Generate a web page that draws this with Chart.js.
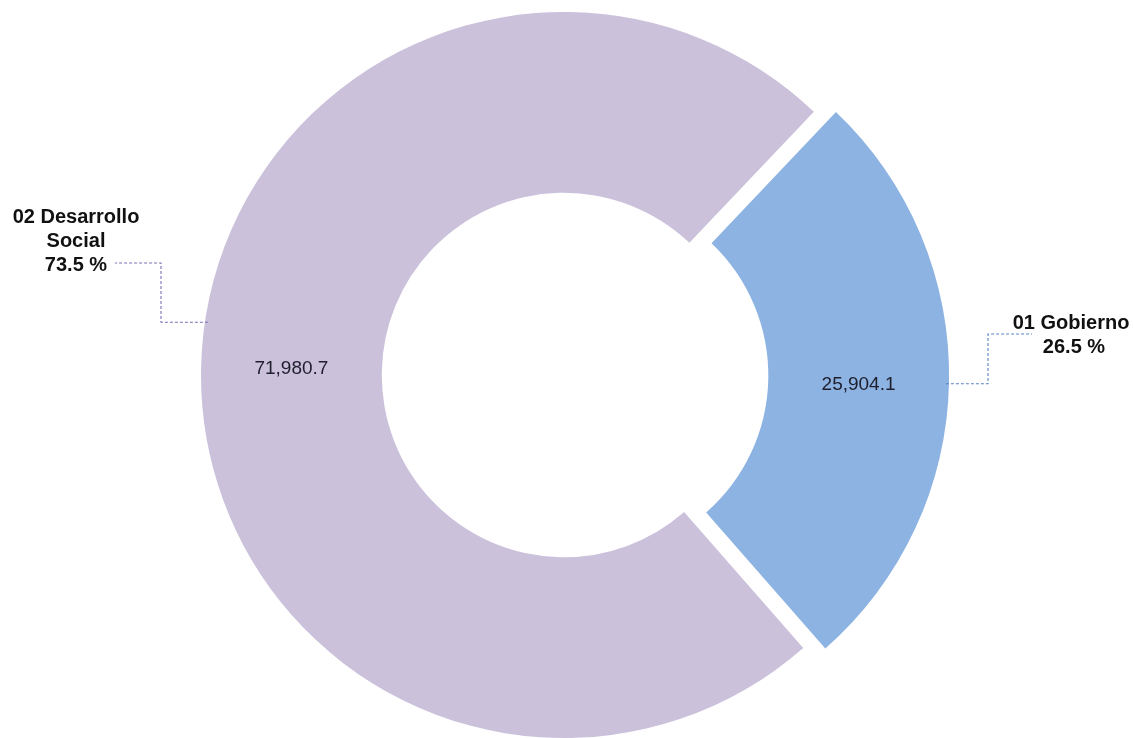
<!DOCTYPE html>
<html>
<head>
<meta charset="utf-8">
<script src="https://cdn.jsdelivr.net/npm/chart.js@4"></script>
<style>
  html, body { margin: 0; padding: 0; background: #ffffff; }
  #wrap { width: 1133px; height: 738px; }
</style>
</head>
<body>
<div id="wrap"><canvas id="c" width="1133" height="738"></canvas></div>
<script>
// Spending by function
const categories = ['01 Gobierno', '02 Desarrollo Social'];
const amounts = [25904.1, 71980.7];
const sliceColors = ['#8DB3E2', '#CBC1DB'];
const leaderColors = ['#5B84C4', '#7A72B4'];

const total = amounts.reduce((a, b) => a + b, 0);
const fmtAmount = v => v.toLocaleString('en-US', { minimumFractionDigits: 1, maximumFractionDigits: 1 });
const fmtPct = v => (v / total * 100).toFixed(1) + ' %';

// Chart.js translates an arc by a quarter of its offset option
const EXPLODE_PX = 22;

// Placement of the outside category labels (text block centre, elbow x, anchor angle tweak)
const outsideLabels = [
  { lines: ['01 Gobierno'], cx: 1071, topY: 323, lineH: 24, elbowX: 988, endX: 1032, lineY: 334, angleShift: 0.2, valueDy: 4 },
  { lines: ['02 Desarrollo', 'Social'], cx: 76, topY: 217, lineH: 24, elbowX: 161, endX: 115, lineY: 263, angleShift: 7.3, valueDy: -1 }
];

const labelPlugin = {
  id: 'sliceLabels',
  afterDatasetsDraw(chart) {
    const ctx = chart.ctx;
    const meta = chart.getDatasetMeta(0);
    meta.data.forEach((arc, i) => {
      const p = arc.getProps(['x', 'y', 'startAngle', 'endAngle', 'innerRadius', 'outerRadius'], true);
      const mid = (p.startAngle + p.endAngle) / 2;
      const off = (arc.options.offset || 0) / 4;
      const ox = p.x + Math.cos(mid) * off;
      const oy = p.y + Math.sin(mid) * off;
      const rMid = (p.innerRadius + p.outerRadius) / 2;
      const L = outsideLabels[i];

      // value inside the ring
      ctx.save();
      ctx.fillStyle = '#1E1E2C';
      ctx.font = '19px "Liberation Sans", Arial, sans-serif';
      ctx.textAlign = 'center';
      ctx.textBaseline = 'middle';
      ctx.fillText(fmtAmount(amounts[i]), ox + Math.cos(mid) * rMid, oy + Math.sin(mid) * rMid + L.valueDy);
      ctx.restore();

      // leader line from the outer edge to the category label
      const a = mid + L.angleShift * Math.PI / 180;
      const ax = ox + Math.cos(a) * (p.outerRadius - 3);
      const ay = oy + Math.sin(a) * (p.outerRadius - 3);
      ctx.save();
      ctx.strokeStyle = leaderColors[i];
      ctx.lineWidth = 1.1;
      ctx.setLineDash([3, 2]);
      ctx.beginPath();
      ctx.moveTo(ax, ay);
      ctx.lineTo(L.elbowX, ay);
      ctx.lineTo(L.elbowX, L.lineY);
      ctx.lineTo(L.endX, L.lineY);
      ctx.stroke();
      ctx.restore();

      // category name and share
      ctx.save();
      ctx.fillStyle = '#111111';
      ctx.font = 'bold 20px "Liberation Sans", Arial, sans-serif';
      ctx.textAlign = 'center';
      ctx.textBaseline = 'middle';
      const textLines = L.lines.concat([fmtPct(amounts[i])]);
      textLines.forEach((t, k) => {
        ctx.fillText(t, L.cx + (k === textLines.length - 1 && i === 0 ? 3 : 0), L.topY + k * L.lineH);
      });
      ctx.restore();
    });
  }
};

new Chart(document.getElementById('c'), {
  type: 'doughnut',
  data: {
    labels: categories,
    datasets: [{
      data: amounts,
      backgroundColor: sliceColors,
      borderWidth: 0,
      offset: [EXPLODE_PX * 4, 0],
      hoverOffset: 0
    }]
  },
  options: {
    responsive: false,
    animation: false,
    rotation: 43.5,
    radius: 363,
    cutout: '50.2%',
    layout: { padding: { top: 12, bottom: 0, left: 0, right: 5 } },
    plugins: {
      legend: { display: false },
      tooltip: { enabled: false }
    }
  },
  plugins: [labelPlugin]
});
</script>
</body>
</html>
